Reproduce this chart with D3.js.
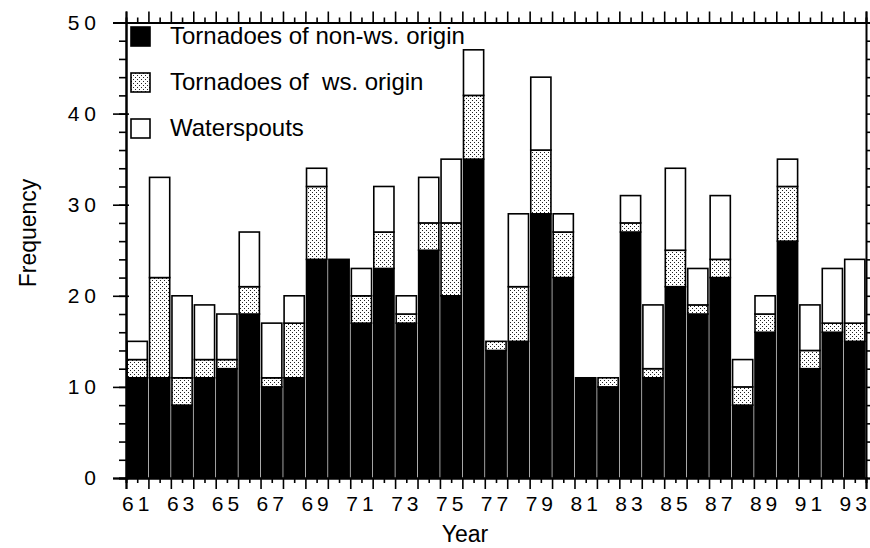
<!DOCTYPE html>
<html>
<head>
<meta charset="utf-8">
<script src="https://cdn.jsdelivr.net/npm/d3@7"></script>
<style>
  body { margin: 0; background: #fff; }
  svg { display: block; font-family: "Liberation Sans", Arial, Helvetica, sans-serif; }
</style>
</head>
<body>
<svg id="chart" width="870" height="548"></svg>
<script>
// years 1961..1993 (two digit labels)
var years = [61,62,63,64,65,66,67,68,69,70,71,72,73,74,75,76,77,78,79,80,81,82,83,84,85,86,87,88,89,90,91,92,93];
// tornadoes of non-waterspout origin
var nonWs = [11,11,8,11,12,18,10,11,24,24,17,23,17,25,20,35,14,15,29,22,11,10,27,11,21,18,22,8,16,26,12,16,15];
// tornadoes of waterspout origin
var wsOrigin = [2,11,3,2,1,3,1,6,8,0,3,4,1,3,8,7,1,6,7,5,0,1,1,1,4,1,2,2,2,6,2,1,2];
// waterspouts
var waterspouts = [2,11,9,6,5,6,6,3,2,0,3,5,2,5,7,5,0,8,8,2,0,0,3,7,9,4,7,3,2,3,5,6,7];

var keys = ["nonWs", "wsOrigin", "waterspouts"];
var legendLabels = ["Tornadoes of non-ws. origin", "Tornadoes of  ws. origin", "Waterspouts"];
var yTicks = [0, 10, 20, 30, 40, 50];

var rows = years.map(function (yr, i) {
    return { year: yr, nonWs: nonWs[i], wsOrigin: wsOrigin[i], waterspouts: waterspouts[i] };
});

var svg = d3.select("#chart");
var mLeft = 126, mRight = 866, mTop = 22.5, mBottom = 478;

// dotted fill
var defs = svg.append("defs");
var pat = defs.append("pattern").attr("id", "dots")
    .attr("patternUnits", "userSpaceOnUse").attr("width", 4).attr("height", 4);
pat.append("rect").attr("width", 4).attr("height", 4).attr("fill", "#fff");
pat.append("rect").attr("x", 0).attr("y", 0).attr("width", 1).attr("height", 1).attr("fill", "#222");
pat.append("rect").attr("x", 2).attr("y", 2).attr("width", 1).attr("height", 1).attr("fill", "#222");

var fills = { nonWs: "#000", wsOrigin: "url(#dots)", waterspouts: "#fff" };

var x = d3.scaleBand().domain(years).range([mLeft, mRight]).paddingInner(0.1).paddingOuter(0.05);
// continuous scale for the tick marks (boundaries at n+0.5)
var xl = d3.scaleLinear().domain([years[0] - 0.5, years[years.length - 1] + 0.5]).range([mLeft, mRight]);
var y = d3.scaleLinear().domain([0, 50]).range([mBottom, mTop]);

// bars
var stack = d3.stack().keys(keys)(rows);
svg.append("g").selectAll("g").data(stack).join("g")
    .attr("fill", function (d) { return fills[d.key]; })
    .selectAll("rect")
    .data(function (d) { return d.filter(function (s) { return s[1] > s[0]; }); })
    .join("rect")
    .attr("x", function (d) { return x(d.data.year); })
    .attr("width", x.bandwidth())
    .attr("y", function (d) { return y(d[1]); })
    .attr("height", function (d) { return y(d[0]) - y(d[1]); })
    .attr("stroke", "#000").attr("stroke-width", 1.6);

// axes
var majors = d3.range(years[0] - 0.5, years[years.length - 1] + 1, 1);
var g = svg.append("g");

g.append("g").attr("transform", "translate(0," + mBottom + ")")
    .call(d3.axisBottom(xl).tickValues(majors).tickSize(11).tickFormat(""));
var xb = g.append("g").attr("transform", "translate(0," + mBottom + ")")
    .call(d3.axisBottom(xl).tickValues(years).tickSize(5).tickPadding(13)
        .tickFormat(function (d) { return d % 2 ? d : ""; }));
g.append("g").attr("transform", "translate(0," + mTop + ")")
    .call(d3.axisTop(xl).tickValues(majors).tickSize(11).tickFormat(""));
g.append("g").attr("transform", "translate(0," + mTop + ")")
    .call(d3.axisTop(xl).tickValues(years).tickSize(5).tickFormat(""));

var yl = g.append("g").attr("transform", "translate(" + mLeft + ",0)")
    .call(d3.axisLeft(y).tickValues(yTicks).tickSize(13).tickPadding(12));
yl.selectAll(".tick line").attr("x1", 3);
g.append("g").attr("transform", "translate(" + mLeft + ",0)")
    .call(d3.axisLeft(y).tickValues(d3.range(0, 51, 2)).tickSize(7).tickFormat(""));
g.append("g").attr("transform", "translate(" + mRight + ",0)")
    .call(d3.axisRight(y).tickValues(d3.range(0, 51, 2)).tickSize(7).tickFormat(""));

g.selectAll(".domain").attr("stroke-width", 2);
g.selectAll("line").attr("stroke-width", 1.6);

xb.selectAll("text").style("font-size", "21px").style("font-family", "Liberation Sans, Arial, sans-serif")
    .attr("fill", "#000").style("letter-spacing", "4px");
yl.selectAll("text").style("font-size", "21px").style("font-family", "Liberation Sans, Arial, sans-serif")
    .attr("fill", "#000").style("letter-spacing", "5px");

// axis titles
svg.append("text").attr("x", 465).attr("y", 542).attr("text-anchor", "middle")
    .attr("font-size", 23).text("Year");
svg.append("text").attr("transform", "translate(36,233) rotate(-90)").attr("text-anchor", "middle")
    .attr("font-size", 23).text("Frequency");

// legend
var legend = svg.append("g").selectAll("g").data(keys).join("g")
    .attr("transform", function (d, i) { return "translate(131," + (27 + i * 46) + ")"; });
legend.append("rect").attr("width", 19).attr("height", 19)
    .attr("fill", function (d) { return fills[d]; })
    .attr("stroke", "#000").attr("stroke-width", 1.6);
legend.append("text").attr("x", 39).attr("y", 17).attr("font-size", 24)
    .style("white-space", "pre").attr("xml:space", "preserve")
    .text(function (d, i) { return legendLabels[i]; });
</script>
</body>
</html>
